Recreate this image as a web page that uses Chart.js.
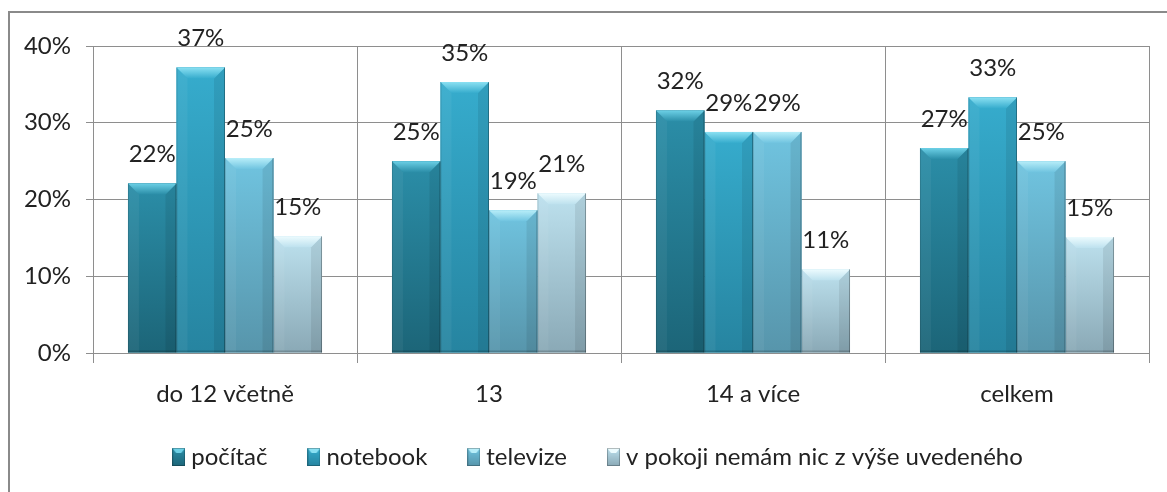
<!DOCTYPE html>
<html><head><meta charset="utf-8">
<script src="https://cdn.jsdelivr.net/npm/chart.js@4"></script>
<style>
html,body{margin:0;padding:0;background:#fff;overflow:hidden}
#wrap{position:relative;width:1167px;height:492px;overflow:hidden}
#frame{position:absolute;left:8px;top:11px;width:1300px;height:700px;border:2px solid #8a8a8a;box-sizing:border-box}
canvas{position:absolute;left:0;top:0}
</style></head><body>
<div id="wrap"><div id="frame"></div><canvas id="c" width="1167" height="492"></canvas></div>
<script>
// ---- data ----
const categories = ['do 12 včetně', '13', '14 a více', 'celkem'];
const seriesNames = ['počítač', 'notebook', 'televize', 'v pokoji nemám nic z výše uvedeného'];
const pocitac  = [22.1, 25.0, 31.6, 26.7];
const notebook = [37.2, 35.3, 28.8, 33.3];
const televize = [25.4, 18.6, 28.8, 25.0];
const nic      = [15.2, 20.8, 10.9, 15.1];
const yTicks   = [0, 10, 20, 30, 40];

// ---- styles ----
const palette = [
  {base:'#2a8ca6', top:'#2b8ea8', bottom:'#1c6578', bevel:'#6cd0e6'},
  {base:'#33a8c9', top:'#36accd', bottom:'#2684a0', bevel:'#8ae0f2'},
  {base:'#6bbfdb', top:'#70c4e0', bottom:'#5795ab', bevel:'#b8eef9'},
  {base:'#b3d9e7', top:'#bde1ee', bottom:'#8aa9b6', bevel:'#ecfbfe'}
];
const FONT = {family:'Lato', size:24};
const TXT = '#222222';
const GRID = '#8e8e8e';

function makeMarker(p){
  const cv = document.createElement('canvas');
  cv.width = 13; cv.height = 18;
  const g = cv.getContext('2d');
  const gr = g.createLinearGradient(0,0,0,18);
  gr.addColorStop(0,p.top); gr.addColorStop(1,p.bottom);
  g.fillStyle = gr; g.fillRect(0,0,13,18);
  g.fillStyle = p.bevel;
  g.beginPath(); g.moveTo(0,0); g.lineTo(13,0); g.lineTo(9,5); g.lineTo(4,5); g.closePath(); g.fill();
  g.strokeStyle = 'rgba(0,0,0,0.25)'; g.lineWidth = 1; g.strokeRect(0.5,0.5,12,17);
  return cv;
}
const markers = palette.map(makeMarker);

const bevelPlugin = {
  id:'bevel',
  afterDatasetDraw(chart, args){
    const c = chart.ctx, p = palette[args.index];
    const meta = args.meta;
    c.save();
    meta.data.forEach(el => {
      const {x, y, width, base} = el.getProps(['x','y','width','base'], true);
      const x0 = x - width/2, x1 = x + width/2, h = base - y;
      const b = Math.min(11, h/2);
      const gr = c.createLinearGradient(0, y, 0, base);
      gr.addColorStop(0, p.top); gr.addColorStop(1, p.bottom);
      c.fillStyle = gr; c.fillRect(x0, y, width, h);
      c.fillStyle = 'rgba(255,255,255,0.05)';
      c.beginPath(); c.moveTo(x0,y); c.lineTo(x0+b,y+b); c.lineTo(x0+b,base); c.lineTo(x0,base); c.closePath(); c.fill();
      c.fillStyle = 'rgba(0,0,0,0.08)';
      c.beginPath(); c.moveTo(x1,y); c.lineTo(x1-b,y+b); c.lineTo(x1-b,base); c.lineTo(x1,base); c.closePath(); c.fill();
      const tg = c.createLinearGradient(0, y, 0, y+b);
      tg.addColorStop(0, p.bevel); tg.addColorStop(1, p.top);
      c.fillStyle = tg;
      c.beginPath(); c.moveTo(x0,y); c.lineTo(x1,y); c.lineTo(x1-b,y+b); c.lineTo(x0+b,y+b); c.closePath(); c.fill();
      c.strokeStyle = 'rgba(0,0,0,0.28)'; c.lineWidth = 1;
      c.beginPath(); c.moveTo(x1-0.5,y); c.lineTo(x1-0.5,base); c.stroke();
      c.strokeStyle = 'rgba(0,0,0,0.12)';
      c.beginPath(); c.moveTo(x0+0.5,y); c.lineTo(x0+0.5,base); c.stroke();
      c.fillStyle = 'rgba(0,0,0,0.18)'; c.fillRect(x0, base-2, width, 2);
    });
    c.restore();
  }
};

const valuePlugin = {
  id:'values',
  afterDatasetsDraw(chart){
    const c = chart.ctx;
    c.save();
    c.font = FONT.size + 'px ' + FONT.family;
    c.fillStyle = TXT; c.textAlign = 'center'; c.textBaseline = 'middle';
    chart.data.datasets.forEach((ds, i) => {
      chart.getDatasetMeta(i).data.forEach((el, j) => {
        c.fillText(Math.round(ds.data[j]) + '%', el.x, el.y - 29);
      });
    });
    c.restore();
  }
};

const legendFit = {
  id:'legendFit',
  beforeInit(chart){
    const lg = chart.legend;
    if (!lg) return;
    const orig = lg.fit.bind(lg);
    lg.fit = function(){ orig(); this.height = 492 - 353 - 62; };
  },
  afterLayout(chart){
    const lg = chart.legend;
    if (!lg) return;
    lg.top = 399; lg.bottom = 492;
    lg.left += 26; lg.right += 26;
  }
};

function draw(){
  const seriesData = [pocitac, notebook, televize, nic];
  new Chart(document.getElementById('c'), {
    type:'bar',
    data:{
      labels: categories,
      datasets: seriesNames.map((n, i) => ({
        label: n, data: seriesData[i], backgroundColor: palette[i].base,
        borderWidth: 0, categoryPercentage: 0.735, barPercentage: 1
      }))
    },
    options:{
      responsive:false, animation:false, devicePixelRatio:1,
      layout:{padding:{top:46, left:0, right:18, bottom:0}},
      scales:{
        x:{
          grid:{offset:true, color:GRID, tickLength:10, drawTicks:true},
          border:{color:GRID},
          ticks:{font:FONT, color:TXT, padding:17, maxRotation:0},
          afterFit(s){ s.height = 62; }
        },
        y:{
          min:0, max:40,
          afterBuildTicks(s){ s.ticks = yTicks.map(v => ({value:v})); },
          ticks:{font:FONT, color:TXT, padding:15, callback:v => v + '%'},
          grid:{color:GRID, tickLength:7},
          border:{color:GRID},
          afterFit(s){ s.width = 93; }
        }
      },
      plugins:{
        legend:{
          position:'bottom',
          labels:{
            usePointStyle:true, boxWidth:1, padding:46, font:FONT, color:TXT,
            generateLabels(chart){
              const items = Chart.defaults.plugins.legend.labels.generateLabels(chart);
              items.forEach((it, i) => { it.pointStyle = markers[i]; });
              return items;
            }
          }
        },
        tooltip:{enabled:false}
      }
    },
    plugins:[legendFit, bevelPlugin, valuePlugin]
  });
}
if (document.fonts && document.fonts.load) {
  document.fonts.load('24px Lato').then(draw, draw);
} else draw();
</script>
</body></html>
